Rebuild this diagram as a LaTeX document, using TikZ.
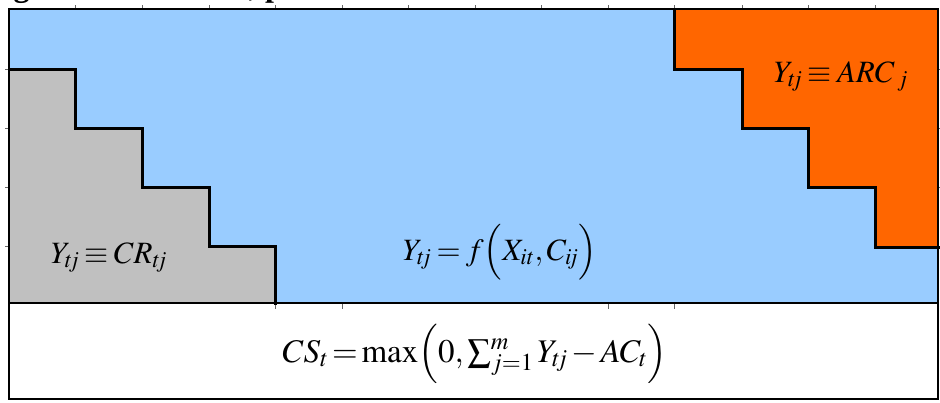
\documentclass[tikz,border=0pt]{standalone}
\usepackage{mathptmx}
\usepackage{fontspec}
\setmainfont{Liberation Serif}
\definecolor{skyfill}{HTML}{99CCFF}
\definecolor{grayfill}{HTML}{C0C0C0}
\definecolor{orangefill}{HTML}{FF6600}
\newcommand{\tjsub}{t\mkern-3mu j}
\newcommand{\ijsub}{i\mkern-3mu j}
\tikzset{
  stairline/.style={line width=3pt, line join=miter, line cap=rect},
  frameline/.style={line width=2.2pt},
  tickmark/.style={line width=0.6pt, black!60},
  eqlabel/.style={inner sep=0pt, anchor=base, font=\fontsize{31}{36}\selectfont},
  bigeq/.style={inner sep=0pt, anchor=base, font=\fontsize{33}{40}\selectfont},
}
\begin{document}
\begin{tikzpicture}[x=1pt,y=-1pt]
\clip (0,0) rectangle (940,402);
\fill[white] (0,0) rectangle (940,402);
% title (clipped at the top edge)
\node[inner sep=0pt, anchor=base west, font=\bfseries\fontsize{32}{36}\selectfont] (title) at (-15,-4) {Figure 4: Variables, parameters and selection of classes};
% regions
\fill[skyfill] (9,9) rectangle (938,303);
\fill[grayfill] (9,69) -- (75,69) -- (75,128) -- (142,128) -- (142,187) -- (209,187) -- (209,246) -- (275,246) -- (275,303) -- (9,303) -- cycle;
\fill[orangefill] (674,9) -- (674,69) -- (742,69) -- (742,128) -- (808,128) -- (808,187) -- (875,187) -- (875,247) -- (938,247) -- (938,9) -- cycle;
% ticks
\foreach \x in {75,142,209,275,342,408,475,541,608,674,742,808,875} \draw[tickmark] (\x,5) -- (\x,9);
\foreach \x in {275,342,608,674} \draw[tickmark] (\x,304) -- (\x,309);
\foreach \y in {69,128,187,246} {\draw[tickmark] (5,\y) -- (9,\y); \draw[tickmark] (938,\y) -- (942,\y);}
% staircases
\draw[stairline] (9,69) -- (75,69) -- (75,128) -- (142,128) -- (142,187) -- (209,187) -- (209,246) -- (275,246) -- (275,303);
\draw[stairline] (674,9) -- (674,69) -- (742,69) -- (742,128) -- (808,128) -- (808,187) -- (875,187) -- (875,247) -- (938,247);
% frame
\draw[frameline] (9,303) -- (938,303);
\draw[frameline] (9,9) rectangle (938,399);
% labels
\node[eqlabel] (cr) at (109,263) {$\thickmuskip=3mu Y_{\tjsub}\equiv CR_{\tjsub}$};
\node[eqlabel] (arc) at (841,82) {$\thickmuskip=3mu Y_{\tjsub}\equiv ARC_{\;j}$};
\node[eqlabel] (fx) at (500,260) {$\thickmuskip=3mu Y_{\tjsub}=f\Bigl(X_{it},C_{\ijsub}\Bigr)$};
\node[bigeq] (cs) at (475,362) {$\thickmuskip=2mu\medmuskip=2mu CS_t=\max\Bigl(0,\textstyle\sum_{j=1}^{m}Y_{\tjsub}-AC_t\Bigr)$};
\end{tikzpicture}
\end{document}
